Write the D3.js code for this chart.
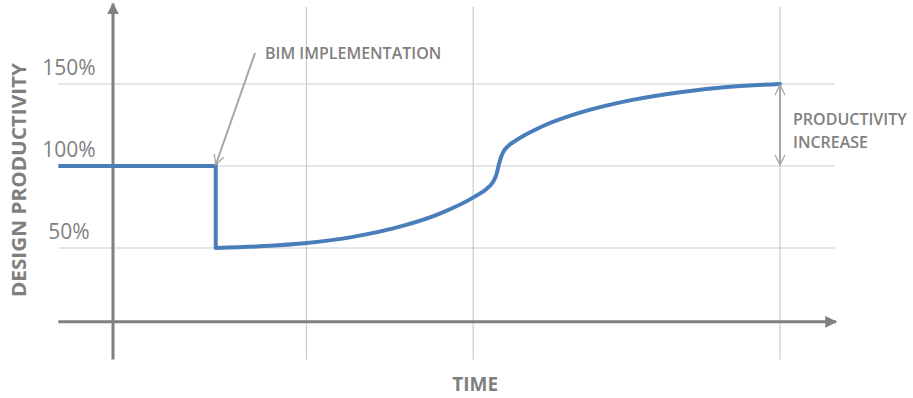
<!DOCTYPE html>
<html>
<head>
<meta charset="utf-8" />
<title>BIM productivity curve</title>
<script src="https://cdnjs.cloudflare.com/ajax/libs/d3/7.8.5/d3.min.js"></script>
<style>
  body { margin: 0; background: #fff; }
  svg { display: block; font-family: "Open Sans", sans-serif; }
</style>
</head>
<body>
<svg id="chart" width="913" height="398"></svg>
<script>
// chart values
const gridTimes = [0, 2.9, 5.4, 10]
const yTicks = [50, 100, 150]
const yTickLabels = ['50%', '100%', '150%']
const stepTime = [-0.82, 1.54, 1.54]
const stepValue = [100, 100, 50]
const curveTime = [1.54, 2.2, 2.91, 3.6, 4.3, 4.9, 5.43, 5.6, 5.7, 5.75, 5.78, 5.81, 5.85, 5.92, 6.02, 6.15, 6.3, 6.5, 7.0, 7.75, 8.5, 9.25, 10]
const curveValue = [50, 51, 53, 56.8, 63, 71, 81.5, 86, 90.5, 95, 100, 104.5, 108.5, 112, 115, 118.3, 121.5, 125.3, 132.5, 140, 145, 148.3, 150]
const implementTime = 1.54
const increaseRange = [100, 150]

const svg = d3.select('#chart')
const x = d3.scaleLinear().domain([0, 10]).range([113, 780])
const y = d3.scaleLinear().domain([0, 150]).range([330, 84])

const axisGray = '#808080'
const gridGray = '#cccccc'
const textGray = '#7f7f7f'
const blue = '#4a7ebb'

const defs = svg.append('defs')
defs.append('marker').attr('id', 'solid')
  .attr('viewBox', '0 0 10 10').attr('refX', 9).attr('refY', 5)
  .attr('markerWidth', 4).attr('markerHeight', 4).attr('orient', 'auto')
  .append('path').attr('d', 'M0,0 L10,5 L0,10 z').attr('fill', axisGray)
defs.append('marker').attr('id', 'open')
  .attr('viewBox', '0 0 12 12').attr('refX', 11).attr('refY', 6)
  .attr('markerWidth', 6).attr('markerHeight', 6).attr('orient', 'auto-start-reverse')
  .attr('markerUnits', 'strokeWidth')
  .append('path').attr('d', 'M1,1 L11,6 L1,11').attr('fill', 'none')
  .attr('stroke', '#a6a6a6').attr('stroke-width', 1.3)

// grid
svg.selectAll('line.hgrid').data(yTicks).enter().append('line')
  .attr('class', 'hgrid')
  .attr('x1', x(-0.82)).attr('x2', x(10.82))
  .attr('y1', d => y(d)).attr('y2', d => y(d))
  .attr('stroke', gridGray).attr('stroke-width', 1.2)

svg.selectAll('line.vgrid').data(gridTimes.slice(1)).enter().append('line')
  .attr('class', 'vgrid')
  .attr('x1', d => x(d)).attr('x2', d => x(d))
  .attr('y1', y(197)).attr('y2', y(-18))
  .attr('stroke', gridGray).attr('stroke-width', 1.2)

// axes
svg.append('line')
  .attr('x1', x(-0.82)).attr('x2', x(10.84))
  .attr('y1', y(5)).attr('y2', y(5))
  .attr('stroke', axisGray).attr('stroke-width', 3)
  .attr('marker-end', 'url(#solid)')
svg.append('line')
  .attr('x1', x(gridTimes[0])).attr('x2', x(gridTimes[0]))
  .attr('y1', y(-18)).attr('y2', y(199))
  .attr('stroke', axisGray).attr('stroke-width', 3)
  .attr('marker-end', 'url(#solid)')

svg.selectAll('text.ytick').data(yTicks).enter().append('text')
  .attr('class', 'ytick')
  .attr('x', 69).attr('y', d => y(d) - 17)
  .attr('text-anchor', 'middle').attr('dominant-baseline', 'central')
  .attr('fill', textGray).attr('font-size', 21)
  .text((d, i) => yTickLabels[i])

svg.append('text')
  .attr('transform', 'translate(19,180) rotate(-90)')
  .attr('text-anchor', 'middle').attr('dominant-baseline', 'central')
  .attr('fill', textGray).attr('font-size', 19).attr('font-weight', 700)
  .attr('textLength', 234).attr('lengthAdjust', 'spacingAndGlyphs')
  .text('DESIGN PRODUCTIVITY')

svg.append('text')
  .attr('x', x(5.43)).attr('y', 384)
  .attr('text-anchor', 'middle').attr('dominant-baseline', 'central')
  .attr('fill', textGray).attr('font-size', 19).attr('font-weight', 700)
  .text('TIME')

// productivity line
const line = d3.line().x(d => x(d[0])).y(d => y(d[1]))
svg.append('path')
  .datum(d3.zip(stepTime, stepValue))
  .attr('d', line)
  .attr('fill', 'none').attr('stroke', blue).attr('stroke-width', 4)
  .attr('stroke-linejoin', 'miter')
svg.append('path')
  .datum(d3.zip(curveTime, curveValue))
  .attr('d', line.curve(d3.curveMonotoneX))
  .attr('fill', 'none').attr('stroke', blue).attr('stroke-width', 4)
  .attr('stroke-linecap', 'round')

// annotations
svg.append('line')
  .attr('x1', 255).attr('y1', 53)
  .attr('x2', x(implementTime)).attr('y2', y(100) - 1)
  .attr('stroke', '#a6a6a6').attr('stroke-width', 2)
  .attr('marker-end', 'url(#open)')
svg.append('text')
  .attr('x', 265).attr('y', 53)
  .attr('dominant-baseline', 'central')
  .attr('fill', textGray).attr('font-size', 16).attr('font-weight', 600)
  .text('BIM IMPLEMENTATION')

svg.append('line')
  .attr('x1', x(10)).attr('x2', x(10))
  .attr('y1', y(increaseRange[1]) + 1).attr('y2', y(increaseRange[0]) - 1)
  .attr('stroke', '#a6a6a6').attr('stroke-width', 2)
  .attr('marker-start', 'url(#open)').attr('marker-end', 'url(#open)')
const inc = svg.append('text')
  .attr('fill', textGray).attr('font-size', 16).attr('font-weight', 600)
inc.append('tspan').attr('x', 793).attr('y', 119).attr('dominant-baseline', 'central').text('PRODUCTIVITY')
inc.append('tspan').attr('x', 793).attr('y', 142).attr('dominant-baseline', 'central').text('INCREASE')
</script>
</body>
</html>
